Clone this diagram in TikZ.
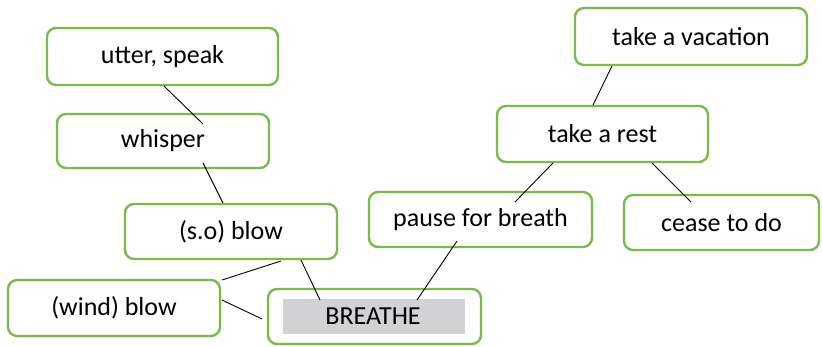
\documentclass[tikz,border=0pt]{standalone}
\usepackage{fontspec}
\setmainfont{Carlito}
\definecolor{boxgreen}{RGB}{122,186,72}
\definecolor{labelgray}{RGB}{210,210,214}
\begin{document}
\begin{tikzpicture}[x=1pt,y=-1pt,
  wordbox/.style={draw=boxgreen, line width=2.4pt, rounded corners=9pt, fill=white,
    inner sep=0pt, font=\fontsize{26}{31}\selectfont, text=black},
  link/.style={draw=black, line width=0.9pt}]
\useasboundingbox (0,0) rectangle (822,346);

% word boxes
\node[wordbox, minimum width=231, minimum height=57] (utter) at (162.5,56.5) {utter, speak};
\node[wordbox, minimum width=212, minimum height=54] (whisper) at (163,141) {whisper};
\node[wordbox, minimum width=212, minimum height=55] (soblow) at (231,231.5) {(s.o) blow};
\node[wordbox, minimum width=212, minimum height=56] (windblow) at (114,308) {(wind) blow};
\node[wordbox, minimum width=213, minimum height=55] (breathe) at (374.5,316.5) {};
\fill[labelgray] (283,299) rectangle (465,334);
\node[font=\fontsize{26}{31}\selectfont, inner sep=0pt] (breathelabel) at (373,316.5) {BREATHE};
\node[wordbox, minimum width=223, minimum height=55] (pause) at (480.5,219.5) {pause for breath};
\node[wordbox, minimum width=211, minimum height=56] (rest) at (602.5,134) {take a rest};
\node[wordbox, minimum width=232, minimum height=57] (vacation) at (691,36.5) {take a vacation};
\node[wordbox, minimum width=195, minimum height=55] (cease) at (721.5,222.5) {cease to do};

% connector end points
\coordinate (u1) at (164,86);   \coordinate (w1) at (203,124);
\coordinate (w2) at (203,163);  \coordinate (s1) at (223,203);
\coordinate (s2) at (281,261);  \coordinate (wb1) at (222,280);
\coordinate (wb2) at (222,300); \coordinate (b1) at (262,319);
\coordinate (s3) at (301,260);  \coordinate (b2) at (320,300);
\coordinate (p1) at (457,241);  \coordinate (b3) at (417,300);
\coordinate (r1) at (553,163);  \coordinate (p2) at (515,202);
\coordinate (v1) at (612,66);   \coordinate (r2) at (593,105);
\coordinate (r3) at (652,163);  \coordinate (c1) at (691,202);

% connectors
\draw[link] (u1) -- (w1);
\draw[link] (w2) -- (s1);
\draw[link] (s2) -- (wb1);
\draw[link] (wb2) -- (b1);
\draw[link] (s3) -- (b2);
\draw[link] (p1) -- (b3);
\draw[link] (r1) -- (p2);
\draw[link] (v1) -- (r2);
\draw[link] (r3) -- (c1);
\end{tikzpicture}
\end{document}
